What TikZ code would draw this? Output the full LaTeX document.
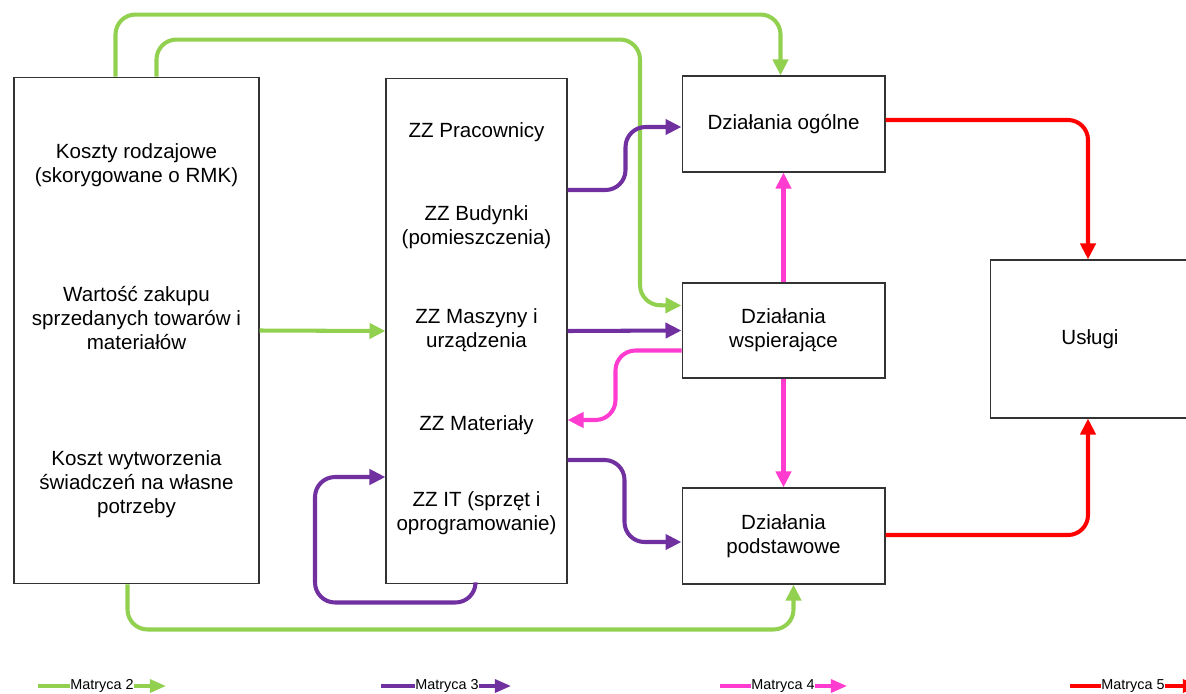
\documentclass[tikz,border=0pt]{standalone}
\usepackage{fontspec}
\setmainfont{Liberation Sans}
\usetikzlibrary{arrows.meta,calc}
\definecolor{mgreen}{HTML}{92D050}
\definecolor{mpurple}{HTML}{7030A0}
\definecolor{mpink}{HTML}{FF3CCF}
\definecolor{mred}{HTML}{FF0000}

\begin{document}
\begin{tikzpicture}[x=0.02cm,y=-0.02cm,
  box/.style={draw=black!80,line width=0.6pt,inner sep=0pt},
  txt/.style={align=center,inner sep=0pt,font=\fontsize{11.7}{13.8}\selectfont},
  leg/.style={inner sep=0pt,font=\fontsize{8.2}{10}\selectfont},
  flow/.style={line width=2.3pt,rounded corners=0.4cm,-{Triangle[length=0.32cm,width=0.3cm]}},
  legline/.style={line width=1.8pt}]
\useasboundingbox (0,0) rectangle (1186,693);
% boxes
\node[box,minimum width=4.9cm,minimum height=10.14cm] (koszty) at (136.5,330.5) {};
\node[box,minimum width=3.62cm,minimum height=10.12cm] (zz) at (476.5,331) {};
\node[box,minimum width=4.06cm,minimum height=1.92cm] (ogolne) at (783.5,124) {};
\node[box,minimum width=4.06cm,minimum height=1.9cm] (wspier) at (783.5,330.5) {};
\node[box,minimum width=4.06cm,minimum height=1.92cm] (podst) at (783.5,536) {};
\node[box,minimum width=4.06cm,minimum height=3.16cm] (uslugi) at (1092,339) {};
% texts
\node[txt] (kr) at (136.5,165) {Koszty rodzajowe\\(skorygowane o RMK)};
\node[txt] (wz) at (136.5,318) {Wartość zakupu\\sprzedanych towarów i\\materiałów};
\node[txt] (kw) at (136.5,484) {Koszt wytworzenia\\świadczeń na własne\\potrzeby};
\node[txt] (zzp) at (476.5,132) {ZZ Pracownicy};
\node[txt] (zzb) at (476.5,227) {ZZ Budynki\\(pomieszczenia)};
\node[txt] (zzm) at (476.5,330) {ZZ Maszyny i\\urządzenia};
\node[txt] (zzmat) at (476.5,425) {ZZ Materiały};
\node[txt] (zzit) at (476.5,513) {ZZ IT (sprzęt i\\oprogramowanie)};
\node[txt] at (ogolne) {Działania ogólne};
\node[txt] at (wspier) {Działania\\wspierające};
\node[txt] at (podst) {Działania\\podstawowe};
\node[txt] at (1090,339) {Usługi};
% Matryca 2
\draw[flow,mgreen] ($(koszty.north west)+(102,0)$) -- ++(0,-62) -| ($(ogolne.north)+(-3,0)$);
\draw[flow,mgreen] ($(koszty.north west)+(143,0)$) -- ++(0,-37) -| (640,305) -- ($(wspier.west)+(0,-25)$);
\draw[flow,mgreen] (koszty.east) -- (zz.west);
\draw[flow,mgreen] ($(koszty.south west)+(114,0)$) -- ++(0,45) -| ($(podst.south)+(10,0)$);
% Matryca 3
\draw[flow,mpurple] ($(zz.east)+(0,-141)$) -- ++(58,0) |- ($(ogolne.west)+(0,3)$);
\draw[flow,mpurple] (zz.east) -- (wspier.west);
\draw[flow,mpurple] ($(zz.east)+(0,129)$) -- ++(57,0) |- ($(podst.west)+(0,6)$);
\draw[flow,mpurple] ($(zz.south)+(-1,0)$) -- ++(0,18) -| (315,477) -- ($(zz.west)+(0,146)$);
% Matryca 4
\draw[flow,mpink] (wspier.north) -- (ogolne.south);
\draw[flow,mpink] (wspier.south) -- (podst.north);
\draw[flow,mpink] ($(wspier.west)+(0,20)$) -- ++(-66,0) |- ($(zz.east)+(0,89)$);
% Matryca 5
\draw[flow,mred] ($(ogolne.east)+(0,-4)$) -| ($(uslugi.north)+(-4,0)$);
\draw[flow,mred] ($(podst.east)+(0,-1)$) -| ($(uslugi.south)+(-4,0)$);
% legend
\node[leg,anchor=west] (l2) at (70,686) {Matryca 2};
\node[leg,anchor=west] (l3) at (415,686) {Matryca 3};
\node[leg,anchor=west] (l4) at (751,686) {Matryca 4};
\node[leg,anchor=west] (l5) at (1101,686) {Matryca 5};
\draw[legline,mgreen] ($(l2.west)+(-32,0)$) -- (l2.west);
\draw[legline,mgreen,-{Triangle[length=0.32cm,width=0.26cm]}] (l2.east) -- ++(32,0);
\draw[legline,mpurple] ($(l3.west)+(-34,0)$) -- (l3.west);
\draw[legline,mpurple,-{Triangle[length=0.32cm,width=0.26cm]}] (l3.east) -- ++(32,0);
\draw[legline,mpink] ($(l4.west)+(-31,0)$) -- (l4.west);
\draw[legline,mpink,-{Triangle[length=0.32cm,width=0.26cm]}] (l4.east) -- ++(32,0);
\draw[legline,mred] ($(l5.west)+(-31,0)$) -- (l5.west);
\draw[legline,mred,-{Triangle[length=0.32cm,width=0.26cm]}] (l5.east) -- ++(34,0);
\end{tikzpicture}
\end{document}
